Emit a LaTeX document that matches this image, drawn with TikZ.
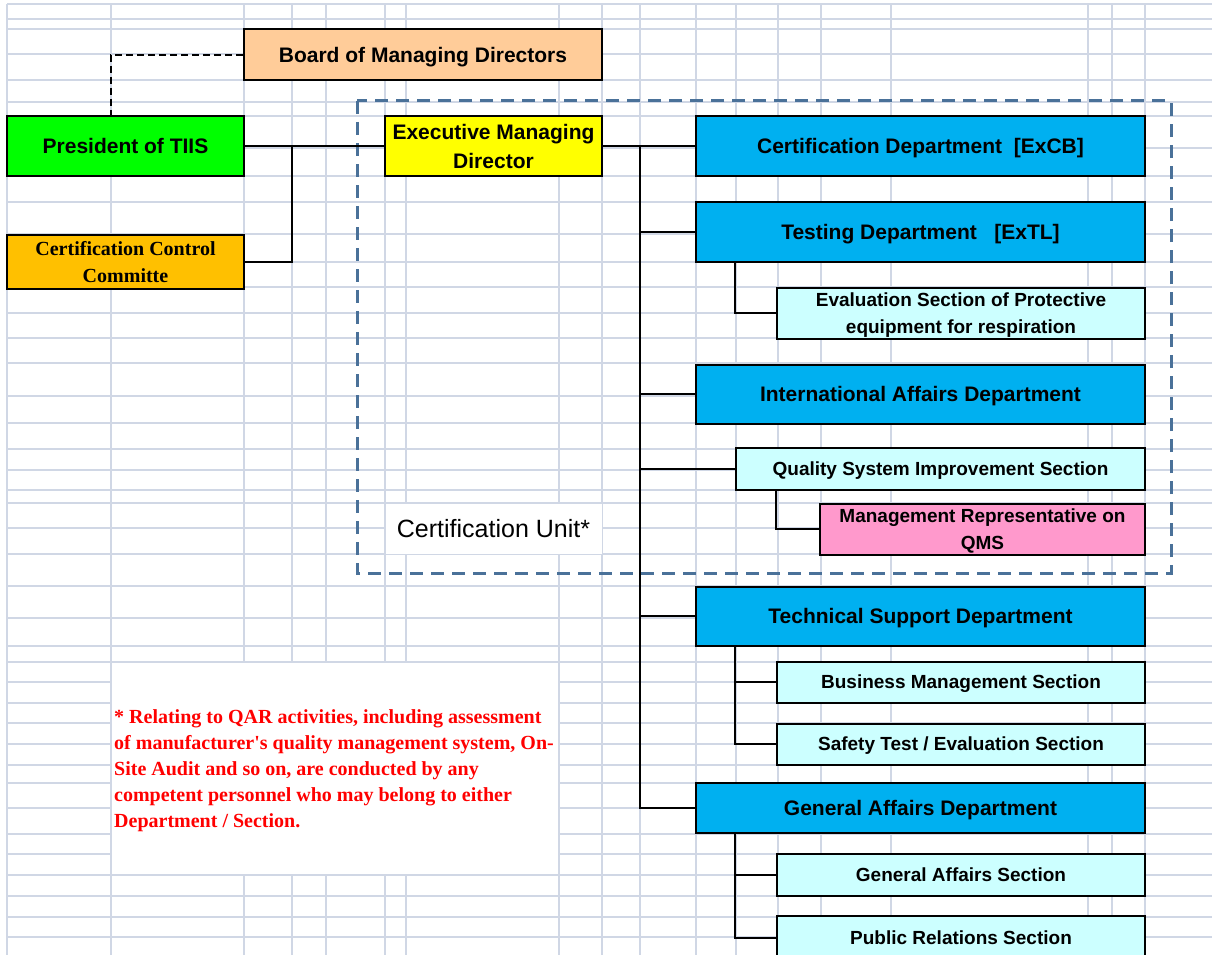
\documentclass[tikz,border=0pt]{standalone}
\usepackage{fontspec}
\setmainfont{Liberation Sans}
\newfontfamily\timesfont{Liberation Serif}
\definecolor{gridgray}{HTML}{D0D7E5}
\definecolor{unitblue}{HTML}{4A7199}
\definecolor{boardpeach}{HTML}{FFCC99}
\definecolor{presgreen}{HTML}{00FF00}
\definecolor{cccorange}{HTML}{FFC000}
\definecolor{emdyellow}{HTML}{FFFF00}
\definecolor{deptblue}{HTML}{00B0F0}
\definecolor{sectcyan}{HTML}{CCFFFF}
\definecolor{reppink}{HTML}{FF99CC}
\begin{document}
\begin{tikzpicture}[x=1pt,y=-1pt,
    gridline/.style={draw=gridgray,line width=1.2pt},
    box/.style={draw,line width=2pt,inner sep=0pt,align=center,text depth=0pt,
      font=\bfseries\fontsize{21}{29}\selectfont},
    dept/.style={box,fill=deptblue,minimum width=449pt,minimum height=60pt},
    sect/.style={box,fill=sectcyan,minimum width=368pt,minimum height=41pt,
      font=\bfseries\fontsize{19}{27}\selectfont},
    link/.style={line width=2pt}]
    \clip (0,0) rectangle (1212,955);
    \fill[white] (0,0) rectangle (1212,955);

    %Grid
    \foreach \gx in {7,111,244,292,326,385,406,559,602,640,696,736,778,821,891,1088,1112,1145}
      \draw[gridline] (\gx,4) -- (\gx,955);
    \foreach \gy in {4,19,29,54,80,102,116,148,176,202,234,262,287,313,338,363,396,423,449,470,
        490,503,528,554,586,618,646,662,682,703,723,744,765,783,808,834,854,875,896,917,937}
      \draw[gridline] (7,\gy) -- (1212,\gy);

    %Note
    \fill[white] (112,663) rectangle (558,874);
    \node[anchor=north west,inner sep=0pt,align=left,text=red,
      font=\timesfont\bfseries\fontsize{20}{26}\selectfont] (note) at (114,709)
      {* Relating to QAR activities, including assessment\\
       of manufacturer's quality management system, On-\\
       Site Audit and so on, are conducted by any\\
       competent personnel who may belong to either\\
       Department / Section.};

    %Certification unit
    \draw[unitblue,line width=3pt,dash pattern=on 13pt off 8pt] (357,101) rectangle (1171,573);
    \node[fill=white,minimum width=216pt,minimum height=50pt,inner sep=0pt,
      font=\fontsize{25}{30}\selectfont] (unit) at (493.5,528.5) {Certification Unit*};

    %Top
    \node[box,fill=boardpeach,minimum width=358pt,minimum height=51pt] (board) at (423,55)
      {Board of Managing Directors};
    \node[box,fill=presgreen,minimum width=237pt,minimum height=60pt] (pres) at (125.5,146)
      {President of TIIS};
    \node[box,fill=cccorange,minimum width=237pt,minimum height=54pt,
      font=\timesfont\bfseries\fontsize{20}{27}\selectfont] (ccc) at (125.5,262)
      {Certification Control\\Committe};
    \node[box,fill=emdyellow,minimum width=217pt,minimum height=60pt] (emd) at (493.5,146)
      {Executive Managing\\Director};

    %Departments
    \node[dept] (certdep) at (920.5,146) {Certification Department\ \ [ExCB]};
    \node[dept] (testdep) at (920.5,232) {Testing Department\ \ \ [ExTL]};
    \node[dept,minimum height=59pt] (intdep) at (920.5,394) {International Affairs Department};
    \node[dept,minimum height=59pt] (techdep) at (920.5,616) {Technical Support Department};
    \node[dept,minimum height=50pt] (gadep) at (920.5,808) {General Affairs Department};

    %Sections
    \node[sect,minimum height=51pt] (evalsec) at (961,313)
      {Evaluation Section of Protective\\equipment for respiration};
    \node[sect,minimum width=409pt,minimum height=42pt] (qsisec) at (940.5,469)
      {Quality System Improvement Section};
    \node[sect,fill=reppink,minimum width=325pt,minimum height=51pt] (mrep) at (982.5,529)
      {Management Representative on\\QMS};
    \node[sect] (bussec) at (961,682) {Business Management Section};
    \node[sect] (safesec) at (961,744) {Safety Test / Evaluation Section};
    \node[sect,minimum height=42pt] (gasec) at (961,875) {General Affairs Section};
    \node[sect,minimum height=44pt] (prsec) at (961,938) {Public Relations Section};

    %Links
    \coordinate (boardjoin) at (111,116);
    \draw[line width=2pt,dash pattern=on 7pt off 4pt] (board.west) -| (boardjoin);
    \coordinate (presjoin) at (292,146);
    \draw[link] (pres.east) -- (emd.west);
    \draw[link] (ccc.east) -| (presjoin);
    \coordinate (trunk) at (640,146);
    \draw[link] (emd.east) -- (certdep.west);
    \foreach \n in {testdep,intdep,qsisec,techdep,gadep}
      \draw[link] (trunk) |- (\n.west);
    \draw[link] ([xshift=40pt]testdep.south west) |- (evalsec.west);
    \draw[link] ([xshift=41pt]qsisec.south west) |- (mrep.west);
    \foreach \n in {bussec,safesec}
      \draw[link] ([xshift=40pt]techdep.south west) |- (\n.west);
    \foreach \n in {gasec,prsec}
      \draw[link] ([xshift=40pt]gadep.south west) |- (\n.west);
  \end{tikzpicture}
\end{document}
